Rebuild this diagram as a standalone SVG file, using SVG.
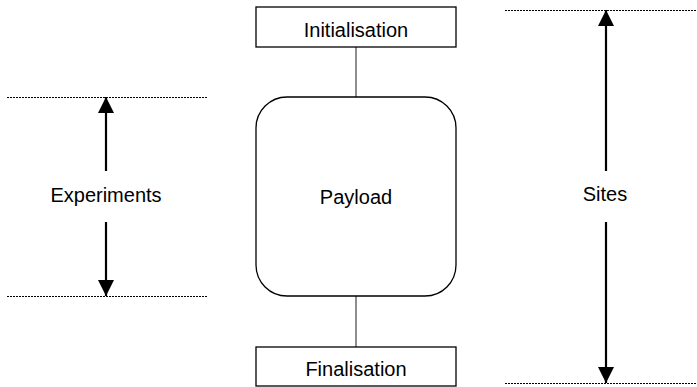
<svg xmlns="http://www.w3.org/2000/svg" width="697" height="387" viewBox="0 0 697 387">
<style>
.box{fill:#fff;stroke:#000;stroke-width:1.3}
.lbl{font-family:"Liberation Sans",Arial,sans-serif;font-size:20px;fill:#000;text-anchor:middle}
.conn{stroke:#444;stroke-width:1.2;fill:none}
.dash{stroke:#000;stroke-width:1;stroke-dasharray:2 1;fill:none}
.arr{stroke:#000;stroke-width:2.2;fill:none;marker-end:url(#ah)}
</style>
<defs>
<marker id="ah" markerUnits="userSpaceOnUse" markerWidth="16" markerHeight="16" viewBox="0 0 16 16" refX="16" refY="8" orient="auto">
<path d="M0,0 L16,8 L0,16 Z" fill="#000"/>
</marker>
</defs>
<g id="connectors">
<line class="conn" x1="356" y1="47" x2="356" y2="97"/>
<line class="conn" x1="356" y1="296" x2="356" y2="347"/>
</g>
<g id="init">
<rect class="box" x="256" y="7" width="200" height="40"/>
<text class="lbl" x="356" y="37">Initialisation</text>
</g>
<g id="payload">
<rect class="box" x="256" y="97" width="200" height="199" rx="31" ry="31"/>
<text class="lbl" x="356" y="204">Payload</text>
</g>
<g id="final">
<rect class="box" x="256" y="347" width="200" height="39"/>
<text class="lbl" x="356" y="376">Finalisation</text>
</g>
<g id="experiments">
<line class="dash" x1="7" y1="97.5" x2="207" y2="97.5"/>
<line class="dash" x1="7" y1="296.5" x2="207" y2="296.5"/>
<line class="arr" x1="106" y1="171" x2="106" y2="97"/>
<line class="arr" x1="106" y1="222" x2="106" y2="296"/>
<text class="lbl" x="106" y="202">Experiments</text>
</g>
<g id="sites">
<line class="dash" x1="505" y1="10.5" x2="697" y2="10.5"/>
<line class="dash" x1="505" y1="383.5" x2="697" y2="383.5"/>
<line class="arr" x1="606" y1="171" x2="606" y2="10"/>
<line class="arr" x1="606" y1="222" x2="606" y2="383"/>
<text class="lbl" x="605" y="201">Sites</text>
</g>
</svg>
